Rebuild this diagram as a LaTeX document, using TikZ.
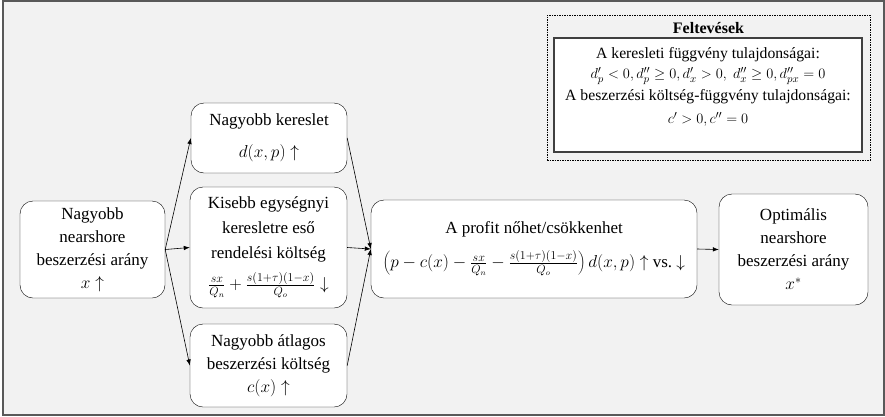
\documentclass[tikz,border=0pt]{standalone}
\usepackage{fontspec}
\setmainfont{Liberation Serif}
\usetikzlibrary{arrows.meta}
\begin{document}
\begin{tikzpicture}[x=1pt,y=-1pt,
    box/.style={draw,fill=white,rounded corners=13pt,align=center,inner sep=0pt,
      font=\fontsize{17}{23}\selectfont},
    arr/.style={-{Latex[length=6pt,width=4.5pt]},line width=0.6pt}]
      \useasboundingbox (0,0) rectangle (885,416);
      \draw[line width=1.5pt,draw=black!65,fill=black!5] (3,1) rectangle (884,415);

      % boxes of the chain
      \node[box,minimum width=145pt,minimum height=97pt] (src) at (92.5,249.5)
        {Nagyobb\\nearshore\\beszerzési arány\\$x\uparrow$};
      \node[box,minimum width=156pt,minimum height=70pt] (dem) at (269,138)
        {Nagyobb kereslet\\[9pt]$d(x,p)\uparrow$};
      \node[box,minimum width=157pt,minimum height=121pt,font=\fontsize{17}{25}\selectfont] (ord) at (268.5,247.5)
        {Kisebb egységnyi\\keresletre eső\\rendelési költség\\[6pt]
         $\frac{sx}{Q_n}+\frac{s(1+\tau)(1-x)}{Q_o}\downarrow$};
      \node[box,minimum width=157pt,minimum height=83pt] (avg) at (268.5,365.5)
        {Nagyobb átlagos\\beszerzési költség\\$c(x)\uparrow$};
      \node[box,minimum width=326pt,minimum height=98pt] (prof) at (534,249)
        {A profit nőhet/csökkenhet\\[11pt]
         $\left(p-c(x)-\frac{sx}{Q_n}-\frac{s(1+\tau)(1-x)}{Q_o}\right)d(x,p)\uparrow$ vs.\ $\downarrow$};
      \node[box,minimum width=149pt,minimum height=111pt] (opt) at (793.5,249.5)
        {Optimális\\nearshore\\beszerzési arány\\$x^{*}$};

      % assumptions
      \node[draw,dash pattern=on 1.5pt off 1pt,minimum width=323pt,minimum height=145pt] (assume) at (708.5,87.5) {};
      \node[font=\fontsize{16}{19}\selectfont\bfseries] (title) at (708.5,28) {Feltevések};
      \node[draw=black!75,line width=1.2pt,fill=white,minimum width=308pt,minimum height=114pt] (props) at (708,95) {};
      \node[align=center,font=\fontsize{15.7}{20}\selectfont] (proptext) at (708,87)
        {A keresleti függvény tulajdonságai:\\
         $d_p'<0,d_p''\geq 0,d_x'>0,\ d_x''\geq 0,d_{px}''=0$\\[2pt]
         A beszerzési költség-függvény tulajdonságai:\\[3pt]
         $c'>0,c''=0$};

      \draw[arr] (src.east) -- (dem.west);
      \draw[arr] (src.east) -- (ord.west);
      \draw[arr] (src.east) -- (avg.west);
      \draw[arr] (dem.east) -- (prof.west);
      \draw[arr] (ord.east) -- (prof.west);
      \draw[arr] (avg.east) -- (prof.west);
      \draw[arr] (prof.east) -- (opt.west);
    \end{tikzpicture}
\end{document}
